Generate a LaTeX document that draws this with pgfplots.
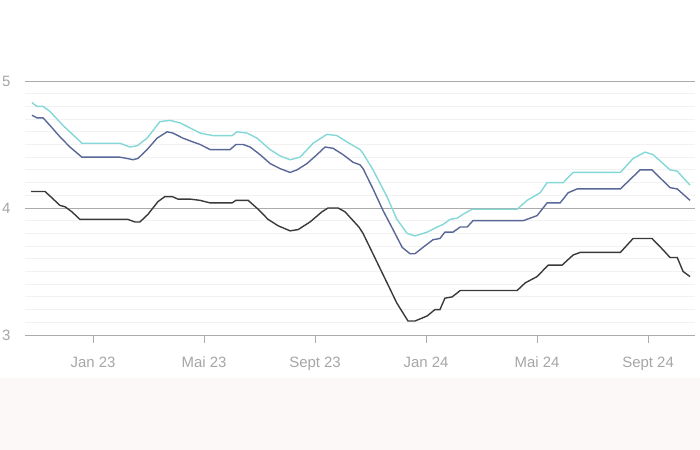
\documentclass[border=0pt]{standalone}
\usepackage{pgfplots}
\pgfplotsset{compat=1.18}
\usepackage{fontspec}
\setmainfont{Liberation Sans}
\definecolor{cyanl}{HTML}{84D8D8}
\definecolor{navyl}{HTML}{5A6898}
\definecolor{darkl}{HTML}{3A3A3A}
\definecolor{gridmaj}{HTML}{ABABAB}
\definecolor{gridmin}{HTML}{F2F2F2}
\definecolor{labgrey}{HTML}{A6A6A6}
\definecolor{bgpink}{HTML}{FCF8F7}
\begin{document}
\begin{tikzpicture}[x=1bp,y=1bp]
\useasboundingbox (0,0) rectangle (700,450);
\fill[white] (0,72) rectangle (700,450);
\fill[bgpink] (0,0) rectangle (700,72);
\begin{axis}[
  at={(25bp,115bp)}, anchor=south west,
  scale only axis, width=670bp, height=254bp,
  xmin=-2.45, xmax=21.69, ymin=3, ymax=5,
  axis line style={draw=none},
  xtick={0,4,8,12,16,20},
  xticklabels={Jan 23,Mai 23,Sept 23,Jan 24,Mai 24,Sept 24},
  ytick={3,4,5},
  minor y tick num=9,
  ymajorgrids, yminorgrids,
  major grid style={draw=gridmaj, line width=0.9bp},
  minor grid style={draw=gridmin, line width=0.8bp},
  xtick pos=left, tick align=outside,
  major x tick style={draw=gridmaj, line width=0.9bp},
  major tick length=8bp,
  ytick style={draw=none}, minor y tick style={draw=none},
  tick label style={font=\fontsize{15}{17}\selectfont, text=labgrey},
  yticklabel style={anchor=west, inner sep=0pt, xshift=-15bp},
  yticklabel pos=left,
  xticklabel style={anchor=north, inner sep=0pt, text height=11bp, text depth=3bp, yshift=-13bp},
  /pgf/number format/assume math mode=true,
  clip=false,
]
\addplot[darkl, line width=1.4bp] coordinates {
(-2.23,4.13) (-1.73,4.13) (-1.48,4.08) (-1.19,4.02) (-1.01,4.01) (-0.76,3.97) (-0.47,3.91) (1.26,3.91) (1.51,3.89) (1.69,3.89) (1.98,3.95) (2.34,4.05) (2.59,4.09) (2.85,4.09) (3.06,4.07) (3.50,4.07) (3.86,4.06) (4.22,4.04) (5.01,4.04) (5.15,4.06) (5.59,4.06) (5.95,3.99) (6.31,3.91) (6.67,3.86) (7.10,3.82) (7.39,3.83) (7.82,3.89) (8.25,3.97) (8.47,4.00) (8.83,4.00) (9.08,3.97) (9.58,3.85) (9.73,3.80) (10.95,3.25) (11.35,3.11) (11.60,3.11) (12.04,3.15) (12.32,3.20) (12.50,3.20) (12.68,3.29) (12.94,3.30) (13.23,3.35) (15.28,3.35) (15.57,3.41) (16.00,3.46) (16.40,3.55) (16.90,3.55) (17.30,3.63) (17.55,3.65) (19.00,3.65) (19.46,3.76) (20.14,3.76) (20.54,3.67) (20.79,3.61) (21.05,3.61) (21.26,3.50) (21.51,3.46)
};
\addplot[navyl, line width=1.4bp] coordinates {
(-2.20,4.73) (-2.02,4.71) (-1.80,4.71) (-1.55,4.65) (-1.19,4.56) (-0.83,4.48) (-0.40,4.40) (0.97,4.40) (1.23,4.39) (1.44,4.38) (1.62,4.39) (1.95,4.46) (2.31,4.55) (2.67,4.60) (2.88,4.59) (3.24,4.55) (3.60,4.52) (3.86,4.50) (4.22,4.46) (4.94,4.46) (5.15,4.50) (5.41,4.50) (5.66,4.48) (6.02,4.42) (6.38,4.35) (6.74,4.31) (7.10,4.28) (7.35,4.30) (7.71,4.35) (8.07,4.42) (8.36,4.48) (8.65,4.47) (9.01,4.42) (9.37,4.36) (9.62,4.34) (9.73,4.31) (10.09,4.15) (10.45,3.98) (10.81,3.83) (11.14,3.69) (11.42,3.64) (11.60,3.64) (11.89,3.69) (12.25,3.75) (12.50,3.76) (12.68,3.81) (12.97,3.81) (13.23,3.85) (13.48,3.85) (13.69,3.90) (15.50,3.90) (15.75,3.92) (16.00,3.94) (16.36,4.04) (16.83,4.04) (17.12,4.12) (17.44,4.15) (19.00,4.15) (19.71,4.30) (20.14,4.30) (20.79,4.16) (21.05,4.15) (21.51,4.06)
};
\addplot[cyanl, line width=1.4bp] coordinates {
(-2.20,4.83) (-2.02,4.80) (-1.80,4.80) (-1.55,4.76) (-1.08,4.65) (-0.40,4.51) (0.97,4.51) (1.33,4.48) (1.59,4.49) (1.95,4.55) (2.41,4.68) (2.77,4.69) (3.14,4.67) (3.50,4.63) (3.86,4.59) (4.32,4.57) (5.01,4.57) (5.19,4.60) (5.55,4.59) (5.91,4.55) (6.38,4.46) (6.74,4.41) (7.10,4.38) (7.46,4.40) (7.93,4.51) (8.43,4.58) (8.79,4.57) (9.15,4.52) (9.62,4.46) (9.73,4.43) (10.09,4.30) (10.59,4.09) (10.95,3.91) (11.32,3.80) (11.60,3.78) (12.04,3.81) (12.40,3.85) (12.61,3.87) (12.86,3.91) (13.12,3.92) (13.33,3.95) (13.66,3.99) (15.28,3.99) (15.64,4.06) (16.11,4.12) (16.36,4.20) (16.94,4.20) (17.30,4.28) (19.00,4.28) (19.46,4.39) (19.89,4.44) (20.18,4.42) (20.79,4.30) (21.05,4.29) (21.51,4.18)
};
\end{axis}
\end{tikzpicture}
\end{document}
